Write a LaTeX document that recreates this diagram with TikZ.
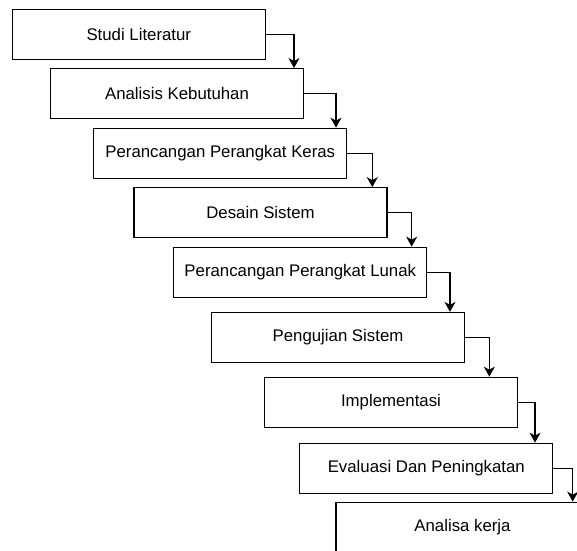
\documentclass[tikz,border=0pt]{standalone}
\usepackage{fontspec}
\setmainfont{Liberation Sans}
\usetikzlibrary{arrows.meta}
\begin{document}
\begin{tikzpicture}[x=1pt,y=-1pt,
  stepbox/.style={draw=black, line width=1.3pt, fill=white, minimum width=253pt, minimum height=50pt,
    inner sep=0pt, font=\fontsize{16.8}{20}\selectfont},
  arr/.style={draw=black, line width=1.3pt, -{Stealth[length=10pt,width=11pt,inset=3pt]}}]
\clip (0,0) rectangle (577,550);
\fill[white] (0,0) rectangle (577,550);
\node[stepbox] (n1) at (138.8,34.3) {Studi Literatur};
\node[stepbox] (n2) at (177,93.7) {Analisis Kebutuhan};
\node[stepbox] (n3) at (220.3,153.3) {Perancangan Perangkat Keras};
\node[stepbox] (n4) at (260.5,212.8) {Desain Sistem};
\node[stepbox] (n5) at (300.3,272.3) {Perancangan Perangkat Lunak};
\node[stepbox] (n6) at (338,337.5) {Pengujian Sistem};
\node[stepbox] (n7) at (391,402.3) {Implementasi};
\node[stepbox] (n8) at (426.3,468.3) {Evaluasi Dan Peningkatan};
\node[stepbox] (n9) at (462.5,527.3) {Analisa kerja};
\draw[arr] (n1.east) -| ([xshift=117pt]n2.north);
\draw[arr] (n2.east) -| ([xshift=115.7pt]n3.north);
\draw[arr] (n3.east) -| ([xshift=111.8pt]n4.north);
\draw[arr] (n4.east) -| ([xshift=111.4pt]n5.north);
\draw[arr] (n5.east) -| ([xshift=112pt]n6.north);
\draw[arr] (n6.east) -| ([xshift=98.3pt]n7.north);
\draw[arr] (n7.east) -| ([xshift=108.7pt]n8.north);
\draw[arr] (n8.east) -| ([xshift=110.2pt]n9.north);
\end{tikzpicture}
\end{document}
